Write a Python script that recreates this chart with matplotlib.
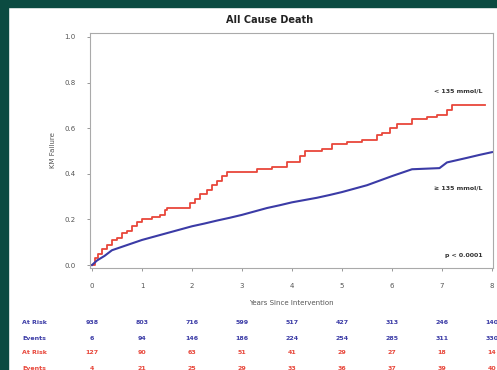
import matplotlib
matplotlib.use('Agg')
import matplotlib.pyplot as plt
from matplotlib.transforms import blended_transform_factory
from matplotlib.patches import Rectangle

# ─── Data ────────────────────────────────────────────────────────────────────

low_na_t = [0, 0.05, 0.12, 0.2, 0.3, 0.4, 0.5, 0.6, 0.7, 0.8, 0.9, 1.0, 1.2,
            1.35, 1.45, 1.5, 1.95, 2.05, 2.15, 2.3, 2.4, 2.5, 2.6, 2.7, 3.3,
            3.6, 3.9, 4.15, 4.25, 4.6, 4.8, 5.1, 5.4, 5.7, 5.8, 5.95, 6.1,
            6.4, 6.7, 6.9, 7.1, 7.2, 7.85]
low_na_f = [0, 0.03, 0.05, 0.07, 0.09, 0.11, 0.12, 0.14, 0.15, 0.17, 0.19,
            0.20, 0.21, 0.22, 0.24, 0.25, 0.27, 0.29, 0.31, 0.33, 0.35, 0.37,
            0.39, 0.41, 0.42, 0.43, 0.45, 0.48, 0.50, 0.51, 0.53, 0.54, 0.55,
            0.57, 0.58, 0.60, 0.62, 0.64, 0.65, 0.66, 0.68, 0.70, 0.70]

norm_na_t = [0, 0.1, 0.25, 0.4, 0.6, 0.8, 1.0, 1.25, 1.5, 1.75, 2.0, 2.25,
             2.5, 2.75, 3.0, 3.25, 3.5, 3.75, 4.0, 4.25, 4.5, 4.75, 5.0, 5.25,
             5.5, 5.75, 6.0, 6.2, 6.4, 6.95, 7.1, 7.3, 7.5, 7.75, 8.0]
norm_na_f = [0, 0.02, 0.04, 0.065, 0.08, 0.095, 0.11, 0.125, 0.14, 0.155,
             0.17, 0.182, 0.195, 0.207, 0.22, 0.235, 0.25, 0.262, 0.275, 0.285,
             0.295, 0.307, 0.32, 0.335, 0.35, 0.37, 0.39, 0.405, 0.42, 0.425,
             0.45, 0.46, 0.47, 0.483, 0.495]

years = [0, 1, 2, 3, 4, 5, 6, 7, 8]
norm_at_risk = [938, 803, 716, 599, 517, 427, 313, 246, 140]
norm_events = [6, 94, 146, 186, 224, 254, 285, 311, 330]
low_at_risk = [127, 90, 63, 51, 41, 29, 27, 18, 14]
low_events = [4, 21, 25, 29, 33, 36, 37, 39, 40]

RED = '#e8463a'
BLUE = '#3b3ba6'
GREY = '#555555'
GREEN = '#0b4b41'

# ─── Figure ──────────────────────────────────────────────────────────────────

fig = plt.figure(figsize=(4.97, 3.70), dpi=100)
fig.patch.set_facecolor('white')

# slide frame: dark green strip on the left and top
fig.add_artist(Rectangle((0, 0), 8 / 497, 1, transform=fig.transFigure,
                         color=GREEN, zorder=0))
fig.add_artist(Rectangle((0, 1 - 7 / 370), 1, 7 / 370, transform=fig.transFigure,
                         color=GREEN, zorder=0))

ax = fig.add_axes([90 / 497, 1 - 268 / 370, 403 / 497, 235 / 370])
ax.plot(low_na_t, low_na_f, drawstyle='steps-post', color=RED, lw=1.3)
# the big group has so many events its curve looks nearly smooth
ax.plot(norm_na_t, norm_na_f, color=BLUE, lw=1.5)

ax.set_xlim(-0.04, 8.02)
ax.set_ylim(-0.013, 1.0175)
ax.set_xticks(years)
ax.set_yticks([0.0, 0.2, 0.4, 0.6, 0.8, 1.0])
ax.set_yticklabels(['0.0', '0.2', '0.4', '0.6', '0.8', '1.0'])
ax.tick_params(labelsize=5, colors='#888888', labelcolor=GREY,
               length=2.5, width=0.6, pad=8)
for s in ax.spines.values():
    s.set_color('#aaaaaa')
    s.set_linewidth(0.8)

ax.set_ylabel('KM Failure', fontsize=5, color=GREY, labelpad=6)
ax.set_xlabel('Years Since Intervention', fontsize=5, color=GREY, labelpad=8)

ax.text(7.8, 0.765, '< 135 mmol/L', fontsize=4.5, fontweight='bold',
        color='#333333', ha='right', va='center')
ax.text(7.8, 0.34, '\u2265 135 mmol/L', fontsize=4.5, fontweight='bold',
        color='#333333', ha='right', va='center')
ax.text(7.82, 0.04, 'p < 0.0001', fontsize=4.5, fontweight='bold',
        color='#333333', ha='right', va='center')

fig.text(270 / 497, 1 - 20 / 370, 'All Cause Death', fontsize=7,
         fontweight='bold', color='#222222', ha='center', va='center')

# ─── Risk table ──────────────────────────────────────────────────────────────

tr = blended_transform_factory(ax.transData, fig.transFigure)
rows = [('At Risk', norm_at_risk, BLUE, 323),
        ('Events', norm_events, BLUE, 338),
        ('At Risk', low_at_risk, RED, 353),
        ('Events', low_events, RED, 368)]
for label, vals, col, ypx in rows:
    yf = 1 - ypx / 370
    fig.text(22 / 497, yf, label, fontsize=4.5, fontweight='bold',
             color=col, ha='left', va='center')
    for yr, v in zip(years, vals):
        ax.text(yr, yf, str(v), transform=tr, fontsize=4.5, fontweight='bold',
                color=col, ha='center', va='center', clip_on=False)

plt.savefig('out.png', dpi=100)
